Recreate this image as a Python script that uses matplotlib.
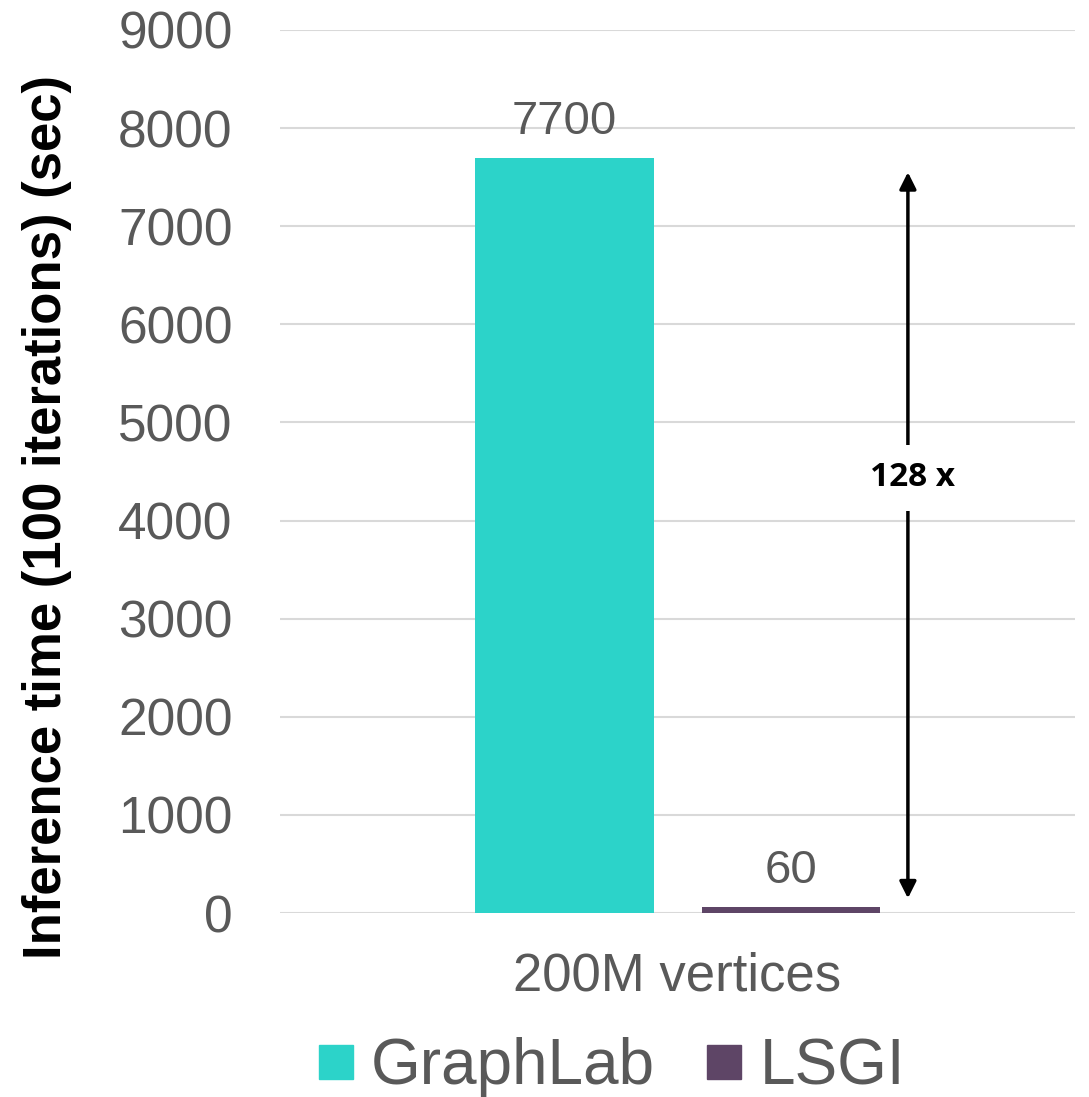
import matplotlib
matplotlib.use('Agg')
import matplotlib.pyplot as plt
from matplotlib.lines import Line2D

# dane
category = '200M vertices'
systems = ['GraphLab', 'LSGI']
times = [7700, 60]
colors = ['#2CD3C9', '#5E4566']
speedup_label = '128 x'
y_ticks = list(range(0, 9001, 1000))

plt.rcParams['font.family'] = ['Liberation Sans', 'DejaVu Sans']
grey = '#595959'

fig = plt.figure(figsize=(10.89, 10.97), dpi=100)
ax = fig.add_axes([0.257, 0.1677, 0.73, 0.805])

offsets = [-0.142, 0.143]
width = 0.225
for off, t, c in zip(offsets, times, colors):
    ax.bar(off, t, width=width, color=c, zorder=3)
    ax.text(off, t + 140, str(t), ha='center', va='bottom', fontsize=34, color=grey)

ax.set_xlim(-0.5, 0.5)
ax.set_ylim(0, 9000)
ax.set_yticks(y_ticks)
ax.set_yticklabels([str(v) for v in y_ticks], fontsize=37, color=grey)
ax.set_xticks([0])
ax.set_xticklabels([category], fontsize=38, color=grey)
ax.tick_params(axis='both', length=0)
ax.tick_params(axis='y', pad=34)
ax.tick_params(axis='x', pad=28)
ax.yaxis.grid(True, color='#D9D9D9', linewidth=1.5, zorder=0)
for s in ax.spines.values():
    s.set_visible(False)

# popisek osy y
fig.text(0.043, 0.529, 'Inference time (100 iterations) (sec)', rotation=90,
         ha='center', va='center', fontsize=38, fontweight='bold', color='black')

# strzalka ze zrychlenim
ax.annotate('', xy=(0.29, 7550), xytext=(0.29, 150),
            arrowprops=dict(arrowstyle='<|-|>', color='black', lw=2.5,
                            mutation_scale=25, shrinkA=0, shrinkB=0), zorder=4)
ax.text(0.296, 4434, speedup_label, ha='center', va='center', fontsize=24,
        fontweight='bold', family=['Open Sans', 'DejaVu Sans'], zorder=5,
        bbox=dict(facecolor='white', edgecolor='none', pad=12))

handles = [Line2D([], [], marker='s', ls='', color=c, markersize=24) for c in colors]
leg = fig.legend(handles, systems, loc='center', bbox_to_anchor=(0.558, 0.027),
                 ncol=2, frameon=False, fontsize=46, handletextpad=0.15,
                 columnspacing=0.68, handlelength=0.8, borderpad=0.2)
for t in leg.get_texts():
    t.set_color(grey)

fig.savefig('out.png', dpi=100)
